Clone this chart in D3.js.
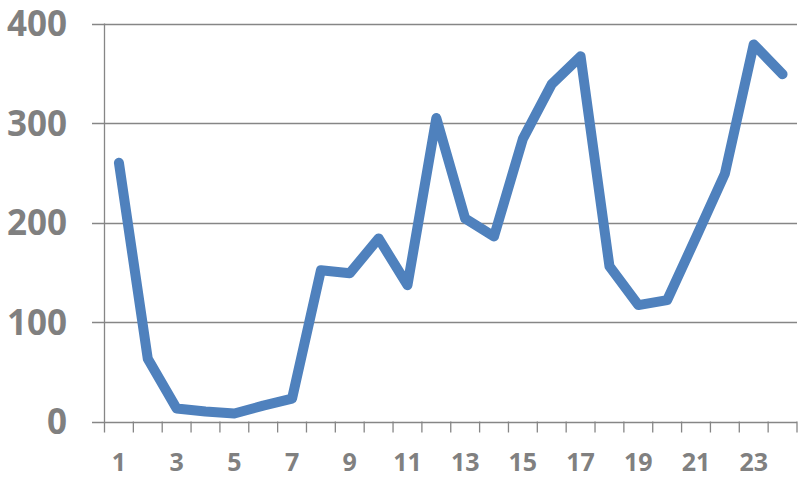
<!DOCTYPE html>
<html>
<head>
<meta charset="utf-8">
<script src="https://cdn.jsdelivr.net/npm/d3@7"></script>
<style>
	body { margin: 0; background: #fff; }
	svg text { font-family: "Open Sans", sans-serif; font-weight: 700; fill: #808080; }
</style>
</head>
<body>
<svg id="chart" width="811" height="486"></svg>
<script>
// Chart data
const categories = d3.range(1, 25)
const values = [260, 63, 13, 10, 8, 16, 23, 152, 149, 184, 137, 305,
	204, 186, 284, 339, 367, 156, 117, 122, 185, 249, 379, 349]
const yTicks = [0, 100, 200, 300, 400]

const svg = d3.select("#chart")
const axisColour = "#868686"

let x = d3.scaleBand()
	.domain(categories)
	.range([104.5, 797])
let y = d3.scaleLinear()
	.domain([0, 400])
	.range([421.5, 23.5])

// Horizontal gridlines (the 0 line doubles as the x axis)
svg.append("g")
	.selectAll("line")
	.data(yTicks)
	.join("line")
	.attr("x1", 92)
	.attr("x2", 797)
	.attr("y1", d => Math.round(y(d)) + 0.5)
	.attr("y2", d => Math.round(y(d)) + 0.5)
	.style("stroke", axisColour)
	.style("stroke-width", "1.3px")

// Y axis line
svg.append("line")
	.attr("x1", 104.5)
	.attr("x2", 104.5)
	.attr("y1", y(400))
	.attr("y2", y(0) + 11)
	.style("stroke", axisColour)
	.style("stroke-width", "1.3px")

// X tick marks at band boundaries
svg.append("g")
	.selectAll("line")
	.data(categories.slice(1).concat([null]))
	.join("line")
	.attr("x1", d => d === null ? x(24) + x.bandwidth() : x(d))
	.attr("x2", d => d === null ? x(24) + x.bandwidth() : x(d))
	.attr("y1", y(0))
	.attr("y2", y(0) + 11)
	.style("stroke", axisColour)
	.style("stroke-width", "1.3px")

// Y labels
svg.append("g")
	.selectAll("text")
	.data(yTicks)
	.join("text")
	.attr("x", 67)
	.attr("y", d => y(d))
	.attr("dy", "0.36em")
	.attr("text-anchor", "end")
	.style("font-size", "35px")
	.text(d => d)

// X labels, odd categories only
svg.append("g")
	.selectAll("text")
	.data(categories.filter(d => d % 2 === 1))
	.join("text")
	.attr("x", d => x(d) + x.bandwidth() / 2)
	.attr("y", 471)
	.attr("text-anchor", "middle")
	.style("font-size", "25px")
	.text(d => d)

// The series line
let line = d3.line()
	.x((d, i) => x(categories[i]) + x.bandwidth() / 2)
	.y(d => y(d))

svg.append("path")
	.datum(values)
	.attr("d", line)
	.style("fill", "none")
	.style("stroke", "#4f81bd")
	.style("stroke-width", "10px")
	.style("stroke-linejoin", "round")
	.style("stroke-linecap", "round")
</script>
</body>
</html>
